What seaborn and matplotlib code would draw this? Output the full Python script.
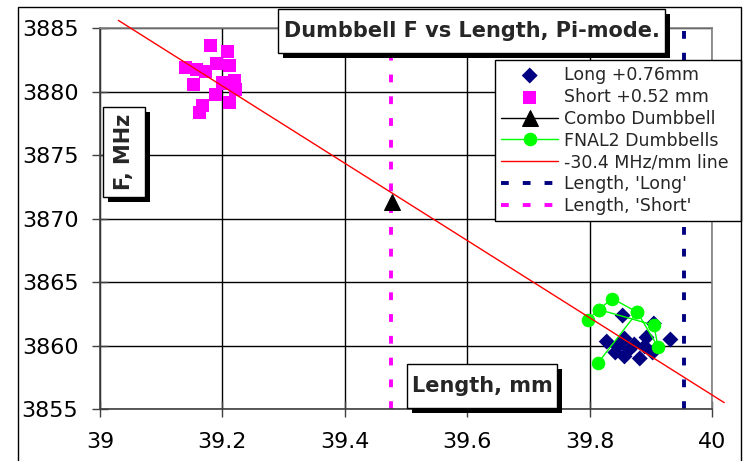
import matplotlib
matplotlib.use("Agg")
import matplotlib.pyplot as plt
import seaborn as sns
from matplotlib.patches import Rectangle

# data
long_len = [39.854, 39.905, 39.932, 39.828, 39.846, 39.857, 39.865, 39.857,
            39.842, 39.873, 39.893, 39.890, 39.882, 39.903]
long_f = [3862.36, 3861.73, 3860.47, 3860.31, 3859.92, 3860.55, 3859.69, 3859.14,
          3859.45, 3860.08, 3860.63, 3859.92, 3858.98, 3859.45]

short_len = [39.181, 39.208, 39.139, 39.157, 39.173, 39.191, 39.212, 39.152,
             39.200, 39.219, 39.222, 39.188, 39.168, 39.163, 39.212]
short_f = [3883.66, 3883.14, 3881.91, 3881.76, 3881.57, 3882.23, 3882.01, 3880.54,
           3880.67, 3880.89, 3880.16, 3879.74, 3878.89, 3878.37, 3879.11]

combo_len = [39.477]
combo_f = [3871.3]

fnal_len = [39.797, 39.815, 39.837, 39.878, 39.814]
fnal_f = [3862.04, 3862.83, 3863.70, 3862.62, 3858.64]
fnal2_len = [39.815, 39.905, 39.912, 39.878]
fnal2_f = [3862.83, 3861.60, 3859.87, 3862.62]

fit_len = [39.03, 40.02]
fit_f = [3885.6, 3855.5]

len_long = 39.955
len_short = 39.475

x_ticks = [39, 39.2, 39.4, 39.6, 39.8, 40]
x_ticklabels = ["39", "39.2", "39.4", "39.6", "39.8", "40"]
y_ticks = [3855, 3860, 3865, 3870, 3875, 3880, 3885]

W, H = 746, 461

sns.set_theme(style="white")
plt.rcParams["font.family"] = ["DejaVu Sans"]

fig = plt.figure(figsize=(W / 100, H / 100), dpi=100)
ax = fig.add_axes([100 / W, 1 - 409 / H, 612 / W, 381 / H])

ax.axvline(len_long, color="#000080", lw=2.8, ls=(0, (2, 3.6)), zorder=2)
ax.axvline(len_short, color="#ff00ff", lw=2.8, ls=(0, (2, 3.6)), zorder=2)

sns.scatterplot(x=long_len, y=long_f, marker="D", s=66, color="#000080",
                edgecolor="none", label="Long +0.76mm", ax=ax, zorder=3)
sns.scatterplot(x=short_len, y=short_f, marker="s", s=88, color="#ff00ff",
                edgecolor="none", label="Short +0.52 mm", ax=ax, zorder=3)
sns.lineplot(x=combo_len, y=combo_f, marker="^", markersize=11, color="black",
             lw=1, markeredgecolor="black", label="Combo Dumbbell", ax=ax, zorder=4)
sns.lineplot(x=fnal_len, y=fnal_f, sort=False, estimator=None, marker="o",
             markersize=9, color="#00ff00", lw=1, markeredgecolor="#00ff00",
             label="FNAL2 Dumbbells", ax=ax, zorder=4)
sns.lineplot(x=fnal2_len, y=fnal2_f, sort=False, estimator=None, marker="o",
             markersize=9, color="#00ff00", lw=1, markeredgecolor="#00ff00",
             ax=ax, zorder=4)
sns.lineplot(x=fit_len, y=fit_f, sort=False, estimator=None, color="#ff0000",
             lw=1, label="-30.4 MHz/mm line", ax=ax, zorder=5)
for l in ax.get_lines()[-1:]:
    l.set_clip_on(False)

ax.set_xlim(39, 40)
ax.set_ylim(3855, 3885)
ax.set_xticks(x_ticks)
ax.set_xticklabels(x_ticklabels)
ax.set_yticks(y_ticks)
ax.set_xlabel("")
ax.set_ylabel("")
ax.grid(True, color="black", lw=1)
ax.tick_params(axis="both", direction="inout", length=11, width=1, color="#404040",
               labelsize=16, labelcolor="black", bottom=True, left=True)
ax.tick_params(axis="y", pad=10)
ax.tick_params(axis="x", pad=11)
for s in ["left", "bottom"]:
    ax.spines[s].set_color("#404040")
    ax.spines[s].set_linewidth(1.2)
for s in ["top", "right"]:
    ax.spines[s].set_color("#808080")
    ax.spines[s].set_linewidth(1.2)

# legend (order as in the chart)
h, lab = ax.get_legend_handles_labels()
h_long = plt.Line2D([], [], color="#000080", lw=2.8, ls=(0, (2, 3.6)))
h_short = plt.Line2D([], [], color="#ff00ff", lw=2.8, ls=(0, (2, 3.6)))
h += [h_long, h_short]
lab += ["Length, 'Long'", "Length, 'Short'"]
leg = ax.legend(h, lab, loc="upper left",
                bbox_to_anchor=(495 / W, 1 - 222 / H, 246 / W, 162 / H),
                bbox_transform=fig.transFigure, mode="expand", borderaxespad=0,
                fontsize=12.5, handlelength=3.3, handletextpad=0.3,
                labelspacing=0.22, borderpad=0.35, fancybox=False,
                framealpha=1, edgecolor="black")
leg.get_frame().set_linewidth(1)
leg.set_zorder(10)

# outer chart frame
fig.add_artist(Rectangle((18 / W, -0.1), 723 / W, 1.1 - 7 / H,
                         transform=fig.transFigure, fill=False,
                         edgecolor="black", lw=1))


def boxed_text(txt, x0, y0, x1, y1, rot=0):
    sh = 5
    fig.add_artist(Rectangle(((x0 + sh) / W, 1 - (y1 + sh) / H), (x1 - x0) / W,
                             (y1 - y0) / H, transform=fig.transFigure,
                             facecolor="black", edgecolor="none", zorder=20))
    fig.add_artist(Rectangle((x0 / W, 1 - y1 / H), (x1 - x0) / W, (y1 - y0) / H,
                             transform=fig.transFigure, facecolor="white",
                             edgecolor="black", lw=1, zorder=21))
    fig.text((x0 + x1) / 2 / W, 1 - (y0 + y1) / 2 / H, txt, ha="center",
             va="center", rotation=rot, fontsize=15, fontweight="bold", zorder=22)


boxed_text("Dumbbell F vs Length, Pi-mode.", 278, 9, 665, 53)
boxed_text("F, MHz", 103, 107, 145, 197, rot=90)
boxed_text("Length, mm", 407, 364, 557, 408)

fig.savefig("out.png", dpi=100)
